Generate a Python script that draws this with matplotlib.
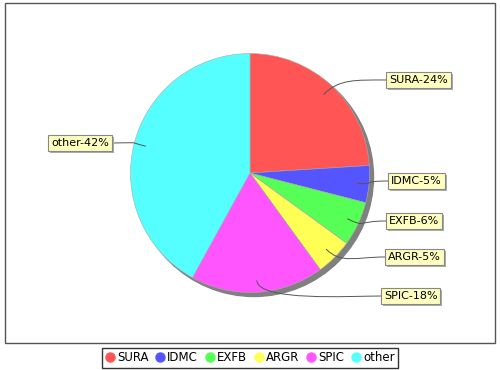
import numpy as np
import matplotlib.pyplot as plt
from matplotlib.patches import Circle, Rectangle, PathPatch
from matplotlib.path import Path
from matplotlib.lines import Line2D

labels = ['SURA', 'IDMC', 'EXFB', 'ARGR', 'SPIC', 'other']
values = [24, 5, 6, 5, 18, 42]
colors = ['#ff5555', '#5555ff', '#55ff55', '#ffff55', '#ff55ff', '#55ffff']

# posicion de las etiquetas (borde x de la caja, centro y desde arriba, en pixeles)
label_pos = [(386, 80), (388, 181), (386, 221), (385, 257), (381, 296), (112, 143)]

W, H = 500, 370
fig = plt.figure(figsize=(5, 3.7), dpi=100)
ax = fig.add_axes([0, 0, 1, 1])

cx, cy, R = 250, H - 173, 119.5

# sombra del pastel
ax.add_patch(Circle((cx + 4, cy - 4), R, color='#808080', zorder=0.5))

wedges, _ = ax.pie(values, colors=colors, startangle=90, counterclock=False,
                   center=(cx, cy), radius=R, frame=True,
                   wedgeprops=dict(linewidth=0.4, edgecolor='#aaaaaa'))

ax.set_xlim(0, W)
ax.set_ylim(0, H)
ax.set_aspect('equal')
ax.axis('off')

# lineas de enlace y etiquetas
texts = []
for w, lab, v, (bx, by) in zip(wedges, labels, values, label_pos):
    th = np.deg2rad((w.theta1 + w.theta2) / 2)
    d = np.array([np.cos(th), np.sin(th)])
    p0 = np.array([cx, cy]) + 0.9 * R * d
    p1 = np.array([cx, cy]) + 1.08 * R * d
    by = H - by
    side = 1 if bx > cx else -1
    p3 = np.array([bx, by])
    p2 = np.array([bx - side * 30, by])
    path = Path([p0, p1, p2, p3], [Path.MOVETO, Path.CURVE4, Path.CURVE4, Path.CURVE4])
    ax.add_patch(PathPatch(path, fill=False, ec='#555555', lw=0.7, zorder=3))

    tx = bx + side * 3
    ha = 'left' if side > 0 else 'right'
    t = ax.text(tx, by, f'{lab}-{v}%', ha=ha, va='center', fontsize=8, color='black',
                bbox=dict(boxstyle='square,pad=0.25', fc='#ffffc0', ec='#888888', lw=0.8),
                zorder=5)
    texts.append(t)

# sombras de las cajas de etiquetas
fig.canvas.draw()
inv = ax.transData.inverted()
for t in texts:
    ext = t.get_bbox_patch().get_window_extent()
    (x0, y0), (x1, y1) = inv.transform([[ext.x0, ext.y0], [ext.x1, ext.y1]])
    ax.add_patch(Rectangle((x0 + 2, y0 - 2), x1 - x0, y1 - y0, fc='#aaaaaa', ec='none', zorder=4))

# borde del area del grafico
ax.add_patch(Rectangle((5, H - 343), 490, 340, fill=False, ec='#555555', lw=1, zorder=6))

handles = [Line2D([], [], marker='o', ls='none', color=c, markersize=6.5) for c in colors]
fig.legend(handles, labels, loc='lower center', bbox_to_anchor=(0.5, 2 / H), ncol=6,
           frameon=True, fancybox=False, edgecolor='black', fontsize=8.5,
           handlelength=0.8, handletextpad=0.2, columnspacing=0.6, borderpad=0.3,
           borderaxespad=0)

fig.savefig('out.png', dpi=100)
